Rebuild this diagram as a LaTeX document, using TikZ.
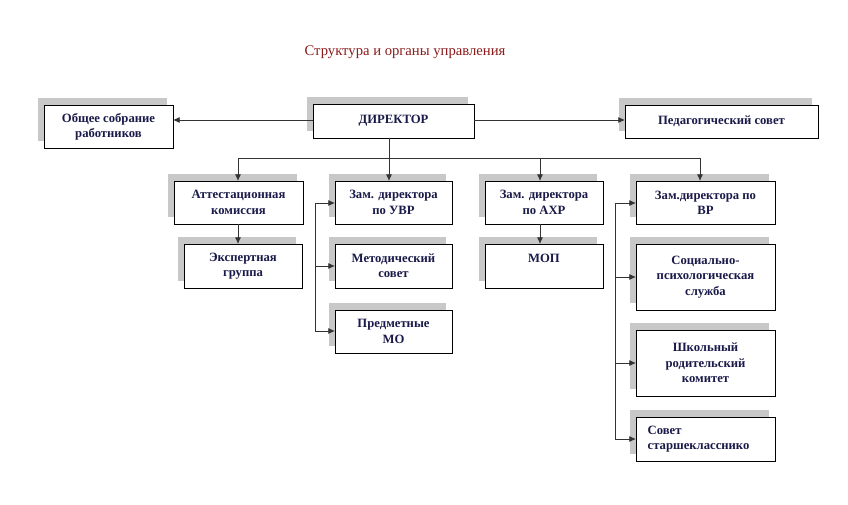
\documentclass[tikz,border=0pt]{standalone}
\usepackage{fontspec}
\setmainfont{Liberation Serif}
\usetikzlibrary{arrows.meta}
\definecolor{navy}{HTML}{1A1A4A}
\definecolor{shadowgray}{HTML}{C8C8C8}
\definecolor{titlered}{HTML}{8B1A1A}
\begin{document}
\begin{tikzpicture}[x=0.75pt,y=-0.75pt,
  txt/.style={font=\bfseries\fontsize{9.5}{11.5}\selectfont,text=navy,align=center},
  conn/.style={draw=black!80,line width=0.6pt,-{Latex[length=5pt,width=4.5pt]}},
  plain/.style={draw=black!80,line width=0.6pt},
  boxline/.style={fill=white,draw=black,line width=0.7pt}]
\useasboundingbox (0,0) rectangle (848,505);
\newcommand{\obox}[6]{%
  \fill[shadowgray] (#2-6,#3-7) rectangle (#4-6,#5-7);
  \draw[boxline] (#2,#3) rectangle (#4,#5);
  \node[txt,anchor=center] (#1) at ({(#2+#4)/2},{(#3+#5)/2}) {#6};}
\node[font=\fontsize{11}{13}\selectfont,text=titlered] (title) at (405,52) {Структура и органы управления};
\obox{obs}{44}{105}{173}{148}{Общее собрание\\работников}
\obox{dir}{313}{104}{474}{138}{ДИРЕКТОР}
\obox{ped}{625}{105}{818}{138}{Педагогический совет}
\obox{att}{174}{181}{303}{224}{Аттестационная\\комиссия}
\obox{eks}{184}{244}{302}{288}{Экспертная\\группа}
\obox{uvr}{335}{181}{452}{224}{Зам. директора\\по УВР}
\obox{met}{335}{244}{452}{288}{Методический\\совет}
\obox{pre}{335}{310}{452}{353}{Предметные\\МО}
\obox{ahr}{485}{181}{603}{224}{Зам. директора\\по АХР}
\fill[shadowgray] (479,237) rectangle (597,281);
\draw[boxline] (485,244) rectangle (603,288);
\node[txt] (mop) at (544,258) {МОП};
\obox{vr}{636}{181}{775}{224}{Зам.директора по\\ВР}
\obox{soc}{636}{244}{775}{310}{Социально-\\психологическая\\служба}
\obox{shk}{636}{330}{775}{396}{Школьный\\родительский\\комитет}
\fill[shadowgray] (630,410) rectangle (769,454);
\draw[boxline] (636,417) rectangle (775,461);
\node[txt,align=left,anchor=west] (sov) at (643,439) {Совет\\старшекласснико};
% connector end points on box borders
\coordinate (dirW) at (313,120); \coordinate (obsE) at (173,120);
\coordinate (dirE) at (474,120); \coordinate (pedW) at (625,120);
\coordinate (dirS) at (389,138); \coordinate (uvrN) at (389,181);
\coordinate (busL) at (238,158); \coordinate (busR) at (700,158);
\coordinate (busM) at (540,158);
\coordinate (attN) at (238,181); \coordinate (attS) at (238,224); \coordinate (eksN) at (238,244);
\coordinate (ahrN) at (540,181); \coordinate (ahrS) at (540,224); \coordinate (mopN) at (540,244);
\coordinate (vrN) at (700,181);
\draw[conn] (dirW) -- (obsE);
\draw[conn] (dirE) -- (pedW);
\draw[conn] (dirS) -- (uvrN);
\draw[plain] (busL) -- (busR);
\draw[conn] (busL) -- (attN);
\draw[conn] (busM) -- (ahrN);
\draw[conn] (busR) -- (vrN);
\draw[conn] (attS) -- (eksN);
\draw[conn] (ahrS) -- (mopN);
\coordinate (l1) at (315,203); \coordinate (l2) at (315,266); \coordinate (l3) at (315,331);
\draw[plain] (l1) -- (l3);
\draw[conn] (l1) -- (335,203);
\draw[conn] (l2) -- (335,266);
\draw[conn] (l3) -- (335,331);
\coordinate (r1) at (615,203); \coordinate (r2) at (615,277); \coordinate (r3) at (615,363); \coordinate (r4) at (615,439);
\draw[plain] (r1) -- (r4);
\draw[conn] (r1) -- (636,203);
\draw[conn] (r2) -- (636,277);
\draw[conn] (r3) -- (636,363);
\draw[conn] (r4) -- (636,439);
\end{tikzpicture}
\end{document}
